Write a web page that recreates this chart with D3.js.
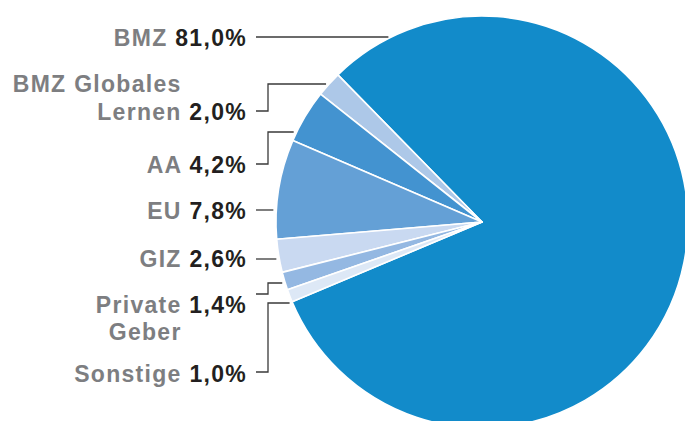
<!DOCTYPE html>
<html>
<head>
<meta charset="utf-8">
<script src="https://cdn.jsdelivr.net/npm/d3@7"></script>
<style>
  html, body { margin: 0; padding: 0; background: #fff; overflow: hidden; }
  svg { display: block; }
</style>
</head>
<body>
<div id="chart"></div>
<script>
// Data (label order, top to bottom)
const names = [['BMZ'], ['BMZ Globales', 'Lernen'], ['AA'], ['EU'], ['GIZ'], ['Private', 'Geber'], ['Sonstige']];
const shares = [81.0, 2.0, 4.2, 7.8, 2.6, 1.4, 1.0];
const colors = ['#128bca', '#adc8e8', '#4393d0', '#64a0d6', '#c9d9f1', '#94b8e2', '#dde8f6'];

const width = 685, height = 421;
const cx = 482, cy = 222, r = 206;

const svg = d3.select('#chart').append('svg')
  .attr('width', width)
  .attr('height', height);

// pie runs counter-clockwise so the small slices stack in label order
const pie = d3.pie().sort(null).value(d => d)
  .startAngle(247.2 * Math.PI / 180)
  .endAngle((247.2 - 360) * Math.PI / 180);

const arc = d3.arc().innerRadius(0).outerRadius(r);

const g = svg.append('g').attr('transform', `translate(${cx},${cy})`);
g.selectAll('path')
  .data(pie(shares))
  .join('path')
  .attr('d', arc)
  .attr('fill', (d, i) => colors[i])
  .attr('stroke', '#fff')
  .attr('stroke-width', 1.6)
  .attr('stroke-linejoin', 'round');

// label layout: baseline of first text line, leader start y, leader end y at the pie
const labelY = [46, 92, 173, 219, 267, 313, 382];
const leadFrom = [37, 111, 164, 210, 259, 294, 372];
const leadTo = [37, 84, 132, 210, 259, 283, 303];
const textX = 247, lineX0 = 256, elbowX = 268;

const lines = svg.append('g')
  .attr('fill', 'none')
  .attr('stroke', '#3a3a3a')
  .attr('stroke-width', 1.3);

shares.forEach((v, i) => {
  const y0 = leadFrom[i], y1 = leadTo[i];
  const xEnd = cx - Math.sqrt(r * r - (y1 - cy) * (y1 - cy)) - 3;
  const pts = y0 === y1
    ? [[lineX0, y0], [xEnd, y1]]
    : [[lineX0, y0], [elbowX, y0], [elbowX, y1], [xEnd, y1]];
  lines.append('path').attr('d', d3.line()(pts));
});

const labels = svg.append('g')
  .attr('font-family', "'Liberation Sans', Arial, Helvetica, sans-serif")
  .attr('font-weight', 'bold')
  .attr('font-size', 23)
  .attr('letter-spacing', 1.3)
  .attr('text-anchor', 'end');

names.forEach((lns, i) => {
  const pct = shares[i].toFixed(1).replace('.', ',') + '%';
  if (lns.length === 1) {
    const t = labels.append('text').attr('x', textX).attr('y', labelY[i]);
    t.append('tspan').attr('fill', '#7d7e81').text(lns[0] + ' ');
    t.append('tspan').attr('fill', '#231f20').text(pct);
  } else if (i === 1) {
    // value on second line, first line right-aligned to the end of the name
    const t2 = labels.append('text').attr('x', textX).attr('y', labelY[i] + 28);
    t2.append('tspan').attr('fill', '#7d7e81').text(lns[1]);
    const sp = t2.append('tspan').attr('fill', '#231f20').text(' ' + pct);
    const w = sp.node().getComputedTextLength();
    labels.append('text').attr('x', textX - w).attr('y', labelY[i])
      .attr('fill', '#7d7e81').text(lns[0]);
  } else {
    // value on first line, second line right-aligned under the name
    const t = labels.append('text').attr('x', textX).attr('y', labelY[i]);
    t.append('tspan').attr('fill', '#7d7e81').text(lns[0]);
    const sp = t.append('tspan').attr('fill', '#231f20').text(' ' + pct);
    const w = sp.node().getComputedTextLength();
    labels.append('text').attr('x', textX - w).attr('y', labelY[i] + 27)
      .attr('fill', '#7d7e81').text(lns[1]);
  }
});
</script>
</body>
</html>
